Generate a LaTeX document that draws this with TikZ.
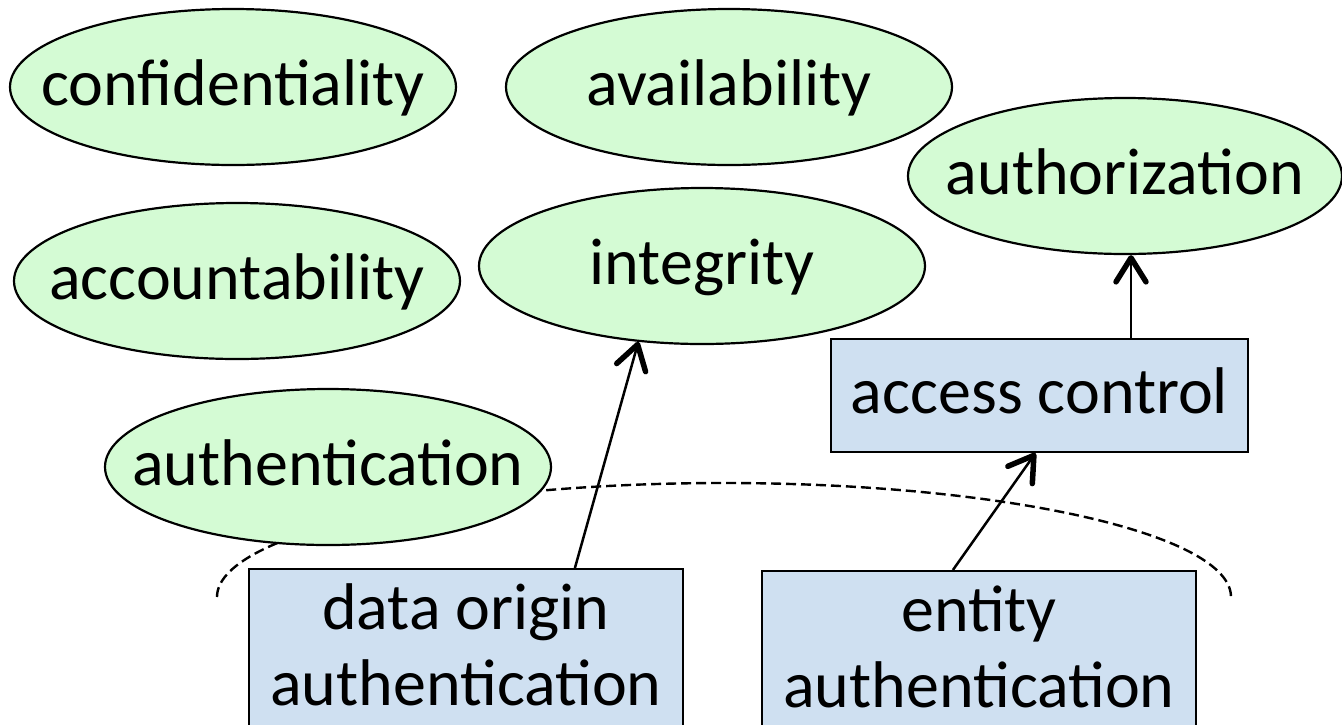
\documentclass[tikz,border=0pt]{standalone}
\usepackage{fontspec}
\setmainfont{Carlito}
\usetikzlibrary{shapes.geometric,arrows.meta,calc}
\definecolor{goalfill}{RGB}{212,251,212}
\definecolor{mechfill}{RGB}{207,224,241}
\begin{document}
\begin{tikzpicture}[x=1pt,y=-1pt,
  goal/.style={ellipse, draw, line width=2.2pt, fill=goalfill,
    minimum width=446pt, minimum height=156pt, inner sep=0pt,
    font=\fontsize{66}{76}\selectfont, text height=48pt, text depth=12pt},
  mech/.style={rectangle, draw, line width=2.2pt, fill=mechfill, inner sep=0pt,
    font=\fontsize{66}{76}\selectfont},
  link/.style={line width=2.5pt,
    -{Straight Barb[length=24pt,width=30pt,line width=5.5pt,round]}},
  boundary/.style={line width=2.4pt, dash pattern=on 10pt off 5pt}
]
\clip (0,0) rectangle (1342,724);

% the dashed boundary around the authentication mechanisms
\draw[boundary] (217,597) arc[start angle=180, end angle=0, x radius=507pt, y radius=114pt];

% security goals
\node[goal] (conf)  at (233,87)  {\makebox[0pt]{confidentiality}};
\node[goal] (avail) at (729,87)  {\makebox[0pt]{availability}};
\node[goal, minimum width=434pt] (authz) at (1125,176) {\makebox[0pt]{authorization}};
\node[goal] (integ) at (702,266) {\makebox[0pt]{integrity}};
\node[goal] (acct)  at (237,281) {\makebox[0pt]{accountability}};
\node[goal] (authn) at (328,467) {\makebox[0pt]{authentication}};

% mechanisms
\node[mech, minimum width=417pt, minimum height=113pt, text height=48pt, text depth=12pt]
  (acc) at (1039.5,395.5) {access control};
\node[mech, align=center, anchor=north, minimum width=434pt, minimum height=164pt]
  (dorig) at (466,568) {\rule{0pt}{46pt}data origin\\authentication\rule[-14pt]{0pt}{14pt}};
\node[mech, align=center, anchor=north, minimum width=434pt, minimum height=164pt]
  (ent) at (979,570) {\rule{0pt}{46pt}entity\\authentication\rule[-14pt]{0pt}{14pt}};

% relations
\draw[link] ($(dorig.north west)+(327,0)$) -- (integ.230);
\draw[link] ($(ent.north west)+(192,0)$) -- ($(acc.south)+(-4,0)$);
\draw[link] ($(acc.north)+(91.5,0)$) -- ($(authz.south)+(6,0)$);
\end{tikzpicture}
\end{document}
